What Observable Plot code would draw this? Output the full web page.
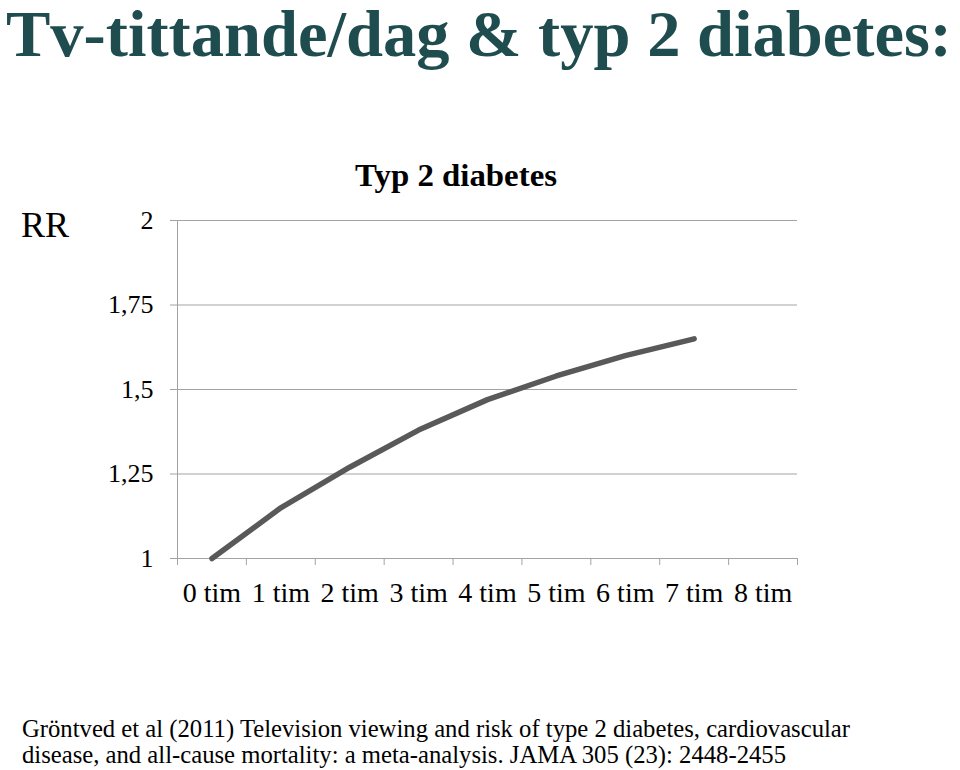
<!DOCTYPE html>
<html>
<head>
<meta charset="utf-8">
<script src="https://cdn.jsdelivr.net/npm/d3@7"></script>
<script src="https://cdn.jsdelivr.net/npm/@observablehq/plot@0.6"></script>
<style>
  html, body { margin: 0; padding: 0; background: #fff; }
  #page { position: relative; width: 960px; height: 770px; overflow: hidden; font-family: "Liberation Serif", "Times New Roman", serif; }
  .fit { position: absolute; display: inline-block; white-space: nowrap; transform-origin: 0 0; font-family: "Liberation Serif", "Times New Roman", serif; }
  #title { left: 6px; top: 1px; font-size: 65px; line-height: 66px; font-weight: bold; color: #1f4d4f; }
  #rr { position: absolute; left: 21px; top: 207px; font-size: 36px; line-height: 36px; color: #000; }
  #ctitle { left: 355px; top: 160px; font-size: 31px; line-height: 31px; font-weight: bold; color: #000; }
  #caption { left: 22px; top: 716px; font-size: 26px; line-height: 26px; color: #000; }
  #chart { position: absolute; left: 0; top: 150px; }
</style>
</head>
<body>
<div id="page">
  <div id="title" class="fit">Tv-tittande/dag &amp; typ 2 diabetes:</div>
  <div id="rr">RR</div>
  <div id="ctitle" class="fit">Typ 2 diabetes</div>
  <div id="chart"></div>
  <div id="caption" class="fit">Gröntved et al (2011) Television viewing and risk of type 2 diabetes, cardiovascular<br>disease, and all-cause mortality: a meta-analysis. JAMA 305 (23): 2448-2455</div>
</div>
<script>
const categories = ["0 tim", "1 tim", "2 tim", "3 tim", "4 tim", "5 tim", "6 tim", "7 tim", "8 tim"];
const hours = [0, 1, 2, 3, 4, 5, 6, 7];
const rrValues = [1.00, 1.15, 1.27, 1.38, 1.47, 1.54, 1.60, 1.65];
const yTicks = [1, 1.25, 1.5, 1.75, 2];

const data = hours.map((h, i) => ({pos: h + 0.5, rr: rrValues[i]}));
const centers = categories.map((c, i) => i + 0.5);
const edges = d3.range(categories.length + 1);
const gridColor = "#a3a3a3";

const chart = Plot.plot({
  width: 960,
  height: 470,
  marginLeft: 177,
  marginRight: 163,
  marginTop: 70,
  marginBottom: 62,
  style: {fontFamily: "Liberation Serif, Times New Roman, serif", fontSize: "26px", color: "#000", background: "transparent"},
  x: {type: "linear", domain: [0, categories.length]},
  y: {type: "linear", domain: [1, 2]},
  marks: [
    Plot.ruleY(yTicks, {stroke: gridColor, strokeWidth: 1}),
    Plot.ruleX([0], {y1: 1, y2: 2, stroke: gridColor, strokeWidth: 1}),
    Plot.axisY({ticks: yTicks, tickFormat: d => String(d).replace(".", ","), tickSize: 7, tickPadding: 17, stroke: gridColor, label: null, fontSize: 26, fill: "#000"}),
    Plot.axisX({ticks: edges, tickSize: 7, tickFormat: () => "", stroke: gridColor, label: null}),
    Plot.axisX({ticks: centers, tickSize: 0, tickPadding: 24, tickFormat: d => categories[Math.round(d - 0.5)], label: null, fontSize: 28, fill: "#000"}),
    Plot.line(data, {x: "pos", y: "rr", stroke: "#595959", strokeWidth: 5.5, strokeLinecap: "round", strokeLinejoin: "round"})
  ]
});
document.getElementById("chart").appendChild(chart);

function fitWidth(id, target) {
  const el = document.getElementById(id);
  const w = el.getBoundingClientRect().width;
  if (w > 0) el.style.transform = `scaleX(${target / w})`;
}
fitWidth("title", 946);
fitWidth("ctitle", 202);
fitWidth("caption", 828);
</script>
</body>
</html>
